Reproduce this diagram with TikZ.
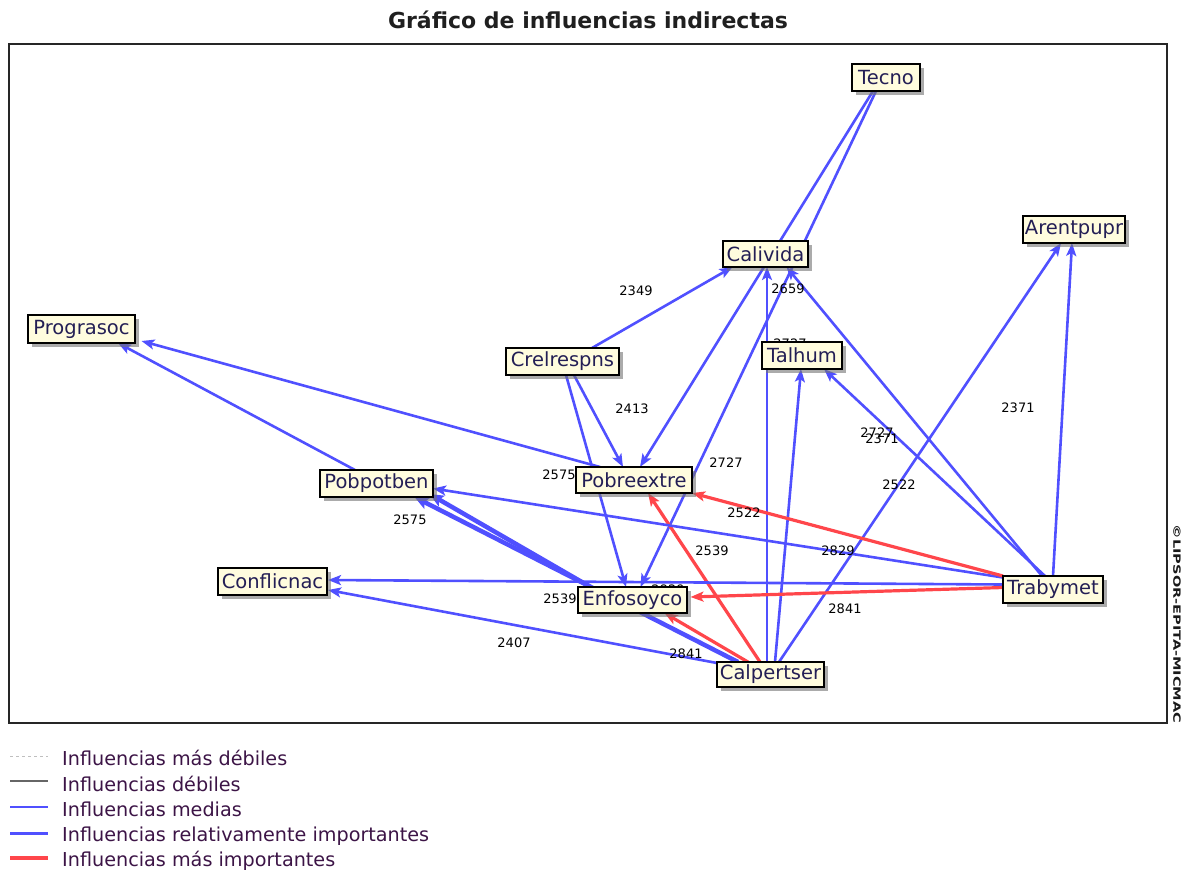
\documentclass[tikz,border=0pt]{standalone}
\usepackage{fontspec}
\setmainfont{DejaVu Sans}
\usetikzlibrary{arrows.meta,shadows,backgrounds}
\definecolor{eblue}{RGB}{80,80,255}
\definecolor{ered}{RGB}{255,70,75}
\definecolor{nfill}{RGB}{255,252,222}
\definecolor{ntext}{RGB}{35,30,85}
\definecolor{legtext}{RGB}{60,20,70}
\tikzset{
  vnode/.style={draw=black, line width=1.5pt, fill=nfill, text=ntext, inner sep=0pt,
    font=\fontsize{19.5}{19.5}\selectfont,
    drop shadow={shadow xshift=4pt, shadow yshift=-4pt, fill=black!55, opacity=0.6}},
  tip/.style={-{Stealth[length=13pt,width=10pt,inset=3pt]}},
  bl/.style={tip, draw=eblue, line width=2.6pt},
  blthick/.style={-{Stealth[length=14pt,width=12pt,inset=3pt]}, draw=eblue, line width=4.5pt},
  rd/.style={tip, draw=ered, line width=3.2pt},
  num/.style={font=\fontsize{13}{13}\selectfont, text=black, inner sep=0pt},
  leg/.style={font=\fontsize{19.2}{19.2}\selectfont, text=legtext, inner sep=0pt, anchor=base west},
}
\begin{document}
\begin{tikzpicture}[x=1pt,y=-1pt]
\useasboundingbox (0,0) rectangle (1185,871);
\node[font=\fontsize{22}{22}\selectfont\bfseries, text=black!88] (title) at (588,20) {Gráfico de influencias indirectas};
\draw[line width=1.3pt, draw=black!85] (9,44) rectangle (1167,723);

% nodes
\node[vnode, minimum width=68pt, minimum height=27pt] (tecno) at (886,77.5) {Tecno};
\node[vnode, minimum width=85pt, minimum height=26pt] (cali) at (765.5,254) {Calivida};
\node[vnode, minimum width=102pt, minimum height=27pt] (arent) at (1074,229.5) {Arentpupr};
\node[vnode, minimum width=107pt, minimum height=28pt] (prog) at (81.5,329) {Prograsoc};
\node[vnode, minimum width=113pt, minimum height=27pt] (crel) at (562.5,361.5) {Crelrespns};
\node[vnode, minimum width=80pt, minimum height=27pt] (talh) at (802,355.5) {Talhum};
\node[vnode, minimum width=116pt, minimum height=26pt] (pobre) at (634,480) {Pobreextre};
\node[vnode, minimum width=113pt, minimum height=27pt] (pobp) at (376.5,483.5) {Pobpotben};
\node[vnode, minimum width=109pt, minimum height=27pt] (conf) at (272.5,581.5) {Conflicnac};
\node[vnode, minimum width=109pt, minimum height=26pt] (enfo) at (632.5,600) {Enfosoyco};
\node[vnode, minimum width=100pt, minimum height=27pt] (trab) at (1053,589.5) {Trabymet};
\node[vnode, minimum width=107pt, minimum height=25pt] (calp) at (770.5,674.5) {Calpertser};

\begin{pgfonlayer}{background}
% Tecno
\draw[bl] ([shift={(-13,13.5)}]tecno.center) -- ([shift={(6,-13)}]pobre.center);
\draw[bl] ([shift={(-10,13.5)}]tecno.center) -- ([shift={(8,-13)}]enfo.center);
% Crelrespns
\draw[bl] ([shift={(11.5,13.5)}]crel.center) -- ([shift={(-11,-13)}]pobre.center);
\draw[bl] ([shift={(3.5,13.5)}]crel.center) -- ([shift={(-6.5,-13)}]enfo.center);
\draw[bl] ([shift={(29.5,-13.5)}]crel.center) -- ([shift={(-33,13)}]cali.center);
% Calpertser
\draw[bl] ([shift={(-3.5,-12.5)}]calp.center) -- ([shift={(1.5,13)}]cali.center);
\draw[bl] ([shift={(4.5,-12.5)}]calp.center) -- ([shift={(-1,13.5)}]talh.center);
\draw[bl] ([shift={(8.5,-12.5)}]calp.center) -- ([shift={(-13,13.5)}]arent.center);
\draw[bl] ([shift={(-53.5,-11.5)}]calp.center) -- ([shift={(55.5,8.5)}]conf.center);
\draw[blthick] ([shift={(-32.5,-12.5)}]calp.center) -- ([shift={(38,13.5)}]pobp.center);
\draw[blthick] ([shift={(-42,-13)}]enfo.center) -- ([shift={(53,10.5)}]pobp.center);
\draw[rd] ([shift={(-22.5,-12.5)}]calp.center) -- ([shift={(32,13)}]enfo.center);
\draw[rd] ([shift={(-10.5,-12.5)}]calp.center) -- ([shift={(14,13)}]pobre.center);
% Trabymet
\draw[bl] ([shift={(-11,-13.5)}]trab.center) -- ([shift={(21,13)}]cali.center);
\draw[bl] ([shift={(-8,-13.5)}]trab.center) -- ([shift={(22,13.5)}]talh.center);
\draw[bl] ([shift={(0,-13.5)}]trab.center) -- ([shift={(-2,13.5)}]arent.center);
\draw[bl] ([shift={(-50,-5)}]trab.center) -- ([shift={(55.5,-1.5)}]conf.center);
\draw[bl] ([shift={(-50,-12)}]trab.center) -- ([shift={(56.5,5)}]pobp.center);
\draw[rd] ([shift={(-50,-13.5)}]trab.center) -- ([shift={(58,13)}]pobre.center);
\draw[rd] ([shift={(-50,-2)}]trab.center) -- ([shift={(58,-3)}]enfo.center);
% towards Prograsoc
\draw[bl] ([shift={(-34,-13)}]pobre.center) -- ([shift={(60,12)}]prog.center);
\draw[bl] ([shift={(-21.5,-13.5)}]pobp.center) -- ([shift={(36.5,14)}]prog.center);

% value labels
\node[num] (n1) at (636,291) {2349};
\node[num] (n2) at (788,289) {2659};
\node[num] (n3) at (790,344) {2727};
\node[num] (n4) at (632,409) {2413};
\node[num] (n5) at (1018,408) {2371};
\node[num] (n6) at (877,433) {2727};
\node[num] (n7) at (882,439) {2371};
\node[num] (n8) at (899,485) {2522};
\node[num] (n9) at (838,551) {2829};
\node[num] (n10) at (845,609) {2841};
\node[num] (n11) at (559,475) {2575};
\node[num] (n12) at (726,463) {2727};
\node[num] (n13) at (744,513) {2522};
\node[num] (n14) at (712,551) {2539};
\node[num] (n15) at (410,520) {2575};
\node[num] (n16) at (560,599) {2539};
\node[num] (n17) at (668,590) {2829};
\node[num] (n18) at (514,643) {2407};
\node[num] (n19) at (686,654) {2841};
\end{pgfonlayer}

% copyright
\node[rotate=-90, text=black!90, inner sep=0pt] (copy) at (1177,624) {\scalebox{1.45}[1]{\fontsize{10}{10}\selectfont\bfseries ©LIPSOR-EPITA-MICMAC}};

% legend
\draw[black!25, line width=1pt, dash pattern=on 3pt off 3pt] (10,756) -- (48,756);
\draw[black!60, line width=1.5pt] (10,781) -- (48,781);
\draw[eblue, line width=1.5pt] (10,807) -- (48,807);
\draw[eblue, line width=3pt] (10,833) -- (48,833);
\draw[ered, line width=3.5pt] (10,858) -- (48,858);
\node[leg] (lg1) at (62,765) {Influencias más débiles};
\node[leg] (lg2) at (62,791) {Influencias débiles};
\node[leg] (lg3) at (62,816) {Influencias medias};
\node[leg] (lg4) at (62,841) {Influencias relativamente importantes};
\node[leg] (lg5) at (62,866) {Influencias más importantes};
\end{tikzpicture}
\end{document}
